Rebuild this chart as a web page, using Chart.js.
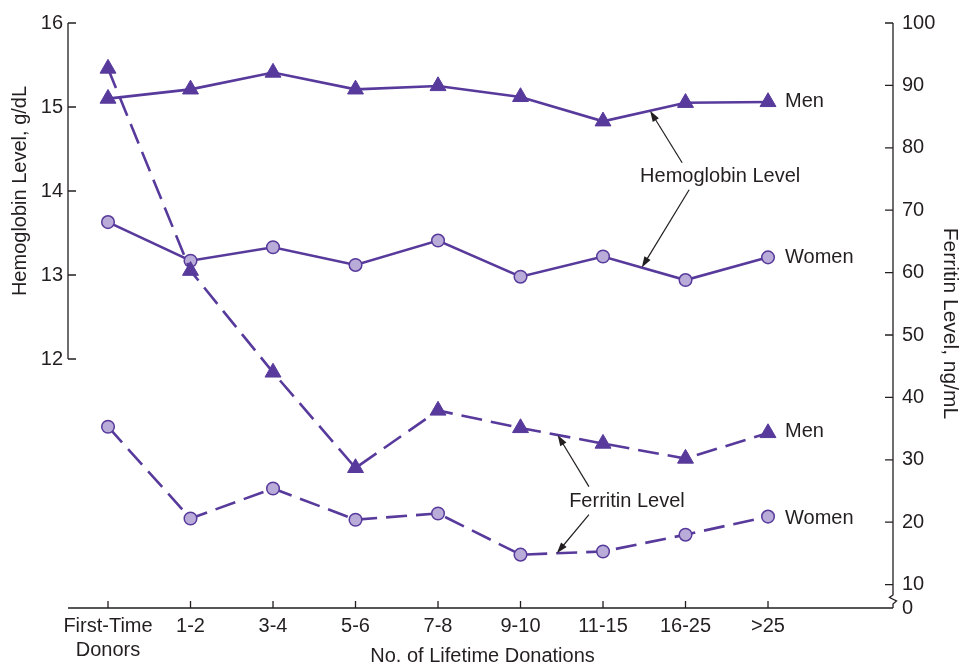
<!DOCTYPE html>
<html>
<head>
<meta charset="utf-8">
<style>
  body { margin: 0; background: #fff; }
  canvas { display: block; }
</style>
</head>
<body>
<canvas id="donorChart" width="967" height="665"></canvas>

<script src="https://cdn.jsdelivr.net/npm/chart.js"></script>
<script>
// categories (x axis)
const categories = [["First-Time", "Donors"], "1-2", "3-4", "5-6", "7-8", "9-10", "11-15", "16-25", ">25"];

// hemoglobin, g/dL (left axis)
const hbMen   = [15.10, 15.21, 15.41, 15.21, 15.25, 15.12, 14.83, 15.05, 15.06];
const hbWomen = [13.63, 13.17, 13.33, 13.12, 13.41, 12.98, 13.22, 12.94, 13.21];

// ferritin, ng/mL (right axis)
const feMen   = [92.7, 60.3, 44.0, 28.7, 37.9, 35.1, 32.6, 30.2, 34.3];
const feWomen = [35.3, 20.6, 25.4, 20.4, 21.4, 14.8, 15.3, 18.0, 20.9];

// tick labels
const hbTicks = [12, 13, 14, 15, 16];
const feTicks = [10, 20, 30, 40, 50, 60, 70, 80, 90, 100];

const purple = "#573a9b";
const lavender = "#b9acd9";
const ink = "#231f20";
const font = "'Liberation Sans', Arial, sans-serif";

function pts(arr) {
    return arr.map((v, i) => ({ x: i, y: v }));
}

// axis lines, tick marks, the axis break, titles and annotations
const decor = {
    id: "decor",
    afterDatasetsDraw(chart) {
        const ctx = chart.ctx;
        const xs = chart.scales.x, yl = chart.scales.y, yr = chart.scales.y2;
        const a = chart.chartArea;
        ctx.save();
        ctx.strokeStyle = ink;
        ctx.lineWidth = 1.3;

        // left axis (12..16 only)
        ctx.beginPath();
        ctx.moveTo(a.left, yl.getPixelForValue(16));
        ctx.lineTo(a.left, yl.getPixelForValue(12));
        hbTicks.forEach(t => {
            const y = yl.getPixelForValue(t);
            ctx.moveTo(a.left, y);
            ctx.lineTo(a.left + 8, y);
        });
        ctx.stroke();

        // right axis with break near the bottom
        const bt = a.bottom - 13;
        ctx.beginPath();
        ctx.moveTo(a.right, yr.getPixelForValue(100));
        ctx.lineTo(a.right, bt);
        ctx.lineTo(a.right - 3.5, bt + 2.5);
        ctx.lineTo(a.right + 3.5, bt + 6);
        ctx.lineTo(a.right, bt + 9);
        ctx.lineTo(a.right, a.bottom);
        feTicks.forEach(t => {
            const y = yr.getPixelForValue(t);
            ctx.moveTo(a.right, y);
            ctx.lineTo(a.right - 8, y);
        });
        ctx.stroke();

        // x axis
        ctx.beginPath();
        ctx.moveTo(a.left, a.bottom);
        ctx.lineTo(a.right, a.bottom);
        categories.forEach((c, i) => {
            const x = xs.getPixelForValue(i);
            ctx.moveTo(x, a.bottom);
            ctx.lineTo(x, a.bottom - 7);
        });
        ctx.stroke();

        // axis titles
        ctx.fillStyle = ink;
        ctx.font = "20px " + font;
        ctx.textAlign = "center";
        ctx.textBaseline = "middle";
        ctx.save();
        ctx.translate(20, (yl.getPixelForValue(16) + yl.getPixelForValue(12)) / 2);
        ctx.rotate(-Math.PI / 2);
        ctx.fillText("Hemoglobin Level, g/dL", 0, 0);
        ctx.restore();
        ctx.save();
        ctx.font = "21px " + font;
        ctx.translate(950, (a.top + a.bottom) / 2 + 8);
        ctx.rotate(Math.PI / 2);
        ctx.fillText("Ferritin Level, ng/mL", 0, 0);
        ctx.restore();
        ctx.fillText("No. of Lifetime Donations", (a.left + a.right) / 2 + 2, 656);

        // series labels at the right end
        ctx.textAlign = "left";
        const last = categories.length - 1;
        const lx = xs.getPixelForValue(last) + 17;
        ctx.fillText("Men", lx, yl.getPixelForValue(hbMen[last]));
        ctx.fillText("Women", lx, yl.getPixelForValue(hbWomen[last]));
        ctx.fillText("Men", lx, yr.getPixelForValue(feMen[last]) - 1);
        ctx.fillText("Women", lx, yr.getPixelForValue(feWomen[last]) + 2);

        // point on a series between index i and i+1
        function along(arr, scale, i, t) {
            const x0 = xs.getPixelForValue(i), x1 = xs.getPixelForValue(i + 1);
            const y0 = scale.getPixelForValue(arr[i]), y1 = scale.getPixelForValue(arr[i + 1]);
            return [x0 + (x1 - x0) * t, y0 + (y1 - y0) * t];
        }
        function arrow(x0, y0, tip) {
            const [x1, y1] = tip;
            const ang = Math.atan2(y1 - y0, x1 - x0);
            const hl = 11, hw = 3.6;
            ctx.beginPath();
            ctx.moveTo(x0, y0);
            ctx.lineTo(x1 - Math.cos(ang) * hl * 0.8, y1 - Math.sin(ang) * hl * 0.8);
            ctx.stroke();
            ctx.beginPath();
            ctx.moveTo(x1, y1);
            ctx.lineTo(x1 - Math.cos(ang) * hl + Math.sin(ang) * hw, y1 - Math.sin(ang) * hl - Math.cos(ang) * hw);
            ctx.lineTo(x1 - Math.cos(ang) * hl - Math.sin(ang) * hw, y1 - Math.sin(ang) * hl + Math.cos(ang) * hw);
            ctx.closePath();
            ctx.fill();
        }

        ctx.textAlign = "center";
        ctx.lineWidth = 1.2;
        // Hemoglobin Level label
        const hx = xs.getPixelForValue(7.42), hy = yl.getPixelForValue(14.17);
        ctx.fillText("Hemoglobin Level", hx, hy);
        arrow(hx - 38, hy - 14, along(hbMen, yl, 6, 0.57));
        arrow(hx - 31, hy + 13, along(hbWomen, yl, 6, 0.47));

        // Ferritin Level label
        const fx = xs.getPixelForValue(6.29), fy = yr.getPixelForValue(23.3);
        ctx.fillText("Ferritin Level", fx, fy);
        arrow(fx - 38, fy - 15, along(feMen, yr, 5, 0.45));
        arrow(fx - 38, fy + 13, along(feWomen, yr, 5, 0.44));

        ctx.restore();
    }
};

const triangle = { pointStyle: "triangle", pointRadius: 9.2, pointBackgroundColor: purple, pointBorderColor: purple, pointBorderWidth: 1 };
const circle = { pointStyle: "circle", pointRadius: 6.3, pointBackgroundColor: lavender, pointBorderColor: purple, pointBorderWidth: 1.5 };

new Chart(document.getElementById("donorChart"), {
    type: "line",
    data: {
        datasets: [
            Object.assign({ label: "Ferritin Men", data: pts(feMen), yAxisID: "y2", borderDash: [21, 9] }, triangle),
            Object.assign({ label: "Ferritin Women", data: pts(feWomen), yAxisID: "y2", borderDash: [21, 9] }, circle),
            Object.assign({ label: "Hemoglobin Men", data: pts(hbMen), yAxisID: "y" }, triangle),
            Object.assign({ label: "Hemoglobin Women", data: pts(hbWomen), yAxisID: "y" }, circle)
        ]
    },
    options: {
        responsive: false,
        animation: false,
        devicePixelRatio: 1,
        layout: { padding: { top: 23, left: 0, right: 0, bottom: 0 } },
        elements: { line: { borderColor: purple, borderWidth: 2.6, tension: 0 } },
        plugins: { legend: { display: false }, tooltip: { enabled: false } },
        scales: {
            x: {
                type: "linear",
                min: -0.485,
                max: 9.515,
                grid: { display: false, drawTicks: false },
                border: { display: false },
                afterFit: s => { s.height = 57; },
                afterBuildTicks: s => { s.ticks = categories.map((c, i) => ({ value: i })); },
                ticks: {
                    autoSkip: false,
                    maxRotation: 0,
                    padding: 6,
                    color: ink,
                    font: { family: font, size: 20, lineHeight: 1.2 },
                    callback: v => categories[v]
                }
            },
            y: {
                position: "left",
                min: 9.036,
                max: 16,
                grid: { display: false, drawTicks: false },
                border: { display: false },
                afterFit: s => { s.width = 68; },
                afterBuildTicks: s => { s.ticks = hbTicks.map(v => ({ value: v })); },
                ticks: { padding: 5, color: ink, font: { family: font, size: 20 } }
            },
            y2: {
                position: "right",
                min: 6.25,
                max: 100,
                grid: { display: false, drawTicks: false },
                border: { display: false },
                afterFit: s => { s.width = 74; },
                afterBuildTicks: s => { s.ticks = [{ value: s.min }].concat(feTicks.map(v => ({ value: v }))); },
                ticks: {
                    padding: 9,
                    color: ink,
                    font: { family: font, size: 20 },
                    callback: v => (v === 6.25 ? "0" : v)
                }
            }
        }
    },
    plugins: [decor]
});
</script>
</body>
</html>
